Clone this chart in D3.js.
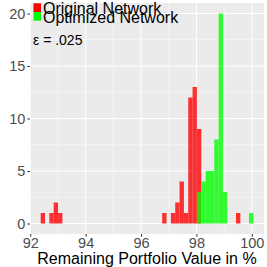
<!DOCTYPE html>
<html>
<head>
<meta charset="utf-8">
<script src="https://cdn.jsdelivr.net/npm/d3@7"></script>
<style>
  body { margin: 0; background: #fff; }
  text { font-family: "Liberation Sans", Arial, sans-serif; }
</style>
</head>
<body>
<svg id="chart" width="267" height="267"></svg>
<script>
// histogram bins (left edge, in %) and counts
const binWidth = 0.1567;
const originalBins = [92.376, 92.689, 92.846, 93.003, 96.764, 97.078, 97.234, 97.391, 97.548, 97.705, 97.861, 98.018, 99.429];
const originalCounts = [1, 1, 2, 1, 1, 1, 2, 4, 1, 12, 13, 9, 1];
const optimizedBins = [98.018, 98.175, 98.332, 98.489, 98.645, 98.802, 98.959, 99.899];
const optimizedCounts = [3, 4, 5, 5, 8, 20, 3, 1];

const xTicks = [92, 94, 96, 98, 100];
const xMinor = [93, 95, 97, 99];
const yTicks = [0, 5, 10, 15, 20];
const yMinor = [2.5, 7.5, 12.5, 17.5];
const seriesNames = ["Original Network", "Optimized Network"];
const seriesColors = ["#ff0000", "#00ff00"];
const note = "ε = .025";
const xTitle = "Remaining Portfolio Value in %";

const svg = d3.select("#chart");
const panel = { left: 30, right: 264, top: 3, bottom: 234 };

const x = d3.scaleLinear().domain([91.99, 100.44]).range([panel.left, panel.right]);
const y = d3.scaleLinear().domain([-1, 21]).range([panel.bottom, panel.top]);

svg.append("rect")
  .attr("x", panel.left).attr("y", panel.top)
  .attr("width", panel.right - panel.left)
  .attr("height", panel.bottom - panel.top)
  .attr("fill", "#ebebeb");

// grid
const grid = svg.append("g");
grid.selectAll(".xminor").data(xMinor).join("line")
  .attr("x1", d => x(d)).attr("x2", d => x(d))
  .attr("y1", panel.top).attr("y2", panel.bottom)
  .attr("stroke", "#fff").attr("stroke-width", 0.5);
grid.selectAll(".yminor").data(yMinor).join("line")
  .attr("y1", d => y(d)).attr("y2", d => y(d))
  .attr("x1", panel.left).attr("x2", panel.right)
  .attr("stroke", "#fff").attr("stroke-width", 0.5);
grid.selectAll(".xmajor").data(xTicks).join("line")
  .attr("x1", d => x(d)).attr("x2", d => x(d))
  .attr("y1", panel.top).attr("y2", panel.bottom)
  .attr("stroke", "#fff").attr("stroke-width", 1);
grid.selectAll(".ymajor").data(yTicks).join("line")
  .attr("y1", d => y(d)).attr("y2", d => y(d))
  .attr("x1", panel.left).attr("x2", panel.right)
  .attr("stroke", "#fff").attr("stroke-width", 1);

function drawBars(bins, counts, color) {
  svg.append("g").selectAll("rect")
    .data(bins.map((b, i) => ({ x0: b, n: counts[i] })))
    .join("rect")
    .attr("x", d => x(d.x0))
    .attr("width", d => x(d.x0 + binWidth) - x(d.x0))
    .attr("y", d => y(d.n))
    .attr("height", d => y(0) - y(d.n))
    .attr("fill", color)
    .attr("fill-opacity", 0.8);
}
drawBars(originalBins, originalCounts, seriesColors[0]);
drawBars(optimizedBins, optimizedCounts, seriesColors[1]);

// axes
const xAxis = svg.append("g")
  .attr("transform", `translate(0,${panel.bottom})`)
  .call(d3.axisBottom(x).tickValues(xTicks).tickSize(2.7).tickPadding(1.5));
const yAxis = svg.append("g")
  .attr("transform", `translate(${panel.left},0)`)
  .call(d3.axisLeft(y).tickValues(yTicks).tickSize(2.7).tickPadding(2));
[xAxis, yAxis].forEach(a => {
  a.select(".domain").remove();
  a.selectAll(".tick line").attr("stroke", "#333");
  a.selectAll(".tick text")
    .attr("fill", "#4d4d4d")
    .style("font-size", "14.5px")
    .style("font-family", "Liberation Sans, Arial, sans-serif");
});

svg.append("text")
  .attr("x", (panel.left + panel.right) / 2)
  .attr("y", 264)
  .attr("text-anchor", "middle")
  .style("font-size", "16px")
  .text(xTitle);

// legend inside the panel
const legend = svg.append("g");
seriesNames.forEach((name, i) => {
  legend.append("rect")
    .attr("x", 33.5).attr("y", 3.3 + i * 8.7)
    .attr("width", 7.5).attr("height", 8.7)
    .attr("fill", seriesColors[i]);
  legend.append("text")
    .attr("x", 43).attr("y", 14 + i * 8.7)
    .style("font-size", "16px")
    .text(name);
});

svg.append("text")
  .attr("x", 33).attr("y", 45)
  .style("font-size", "14px")
  .text(note);
</script>
</body>
</html>
